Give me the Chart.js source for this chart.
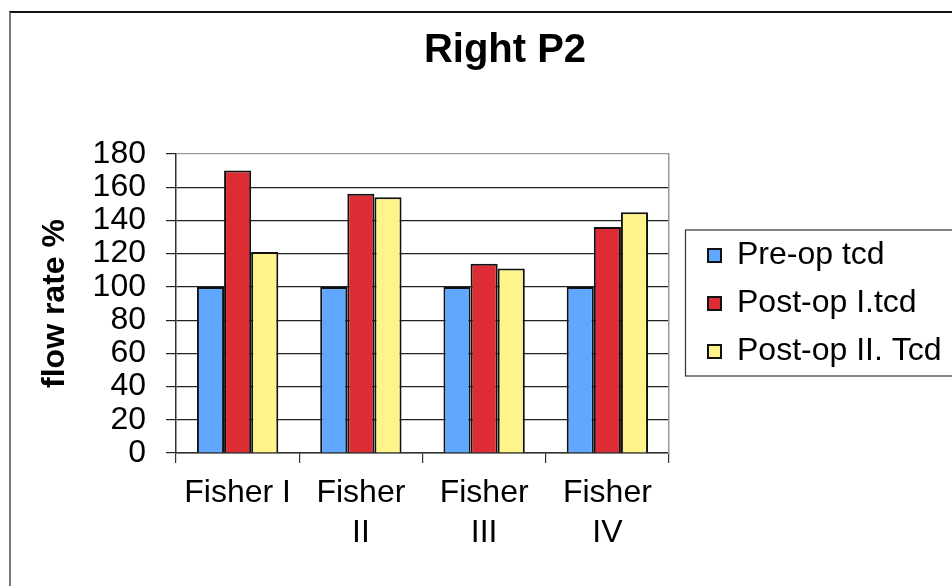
<!DOCTYPE html>
<html><head><meta charset="utf-8">
<script src="https://cdn.jsdelivr.net/npm/chart.js@4.4.0/dist/chart.umd.min.js"></script>
<style>
html,body{margin:0;padding:0;background:#fff;overflow:hidden;width:952px;height:586px;}
#frame{position:absolute;left:9px;top:11px;width:1200px;height:800px;border-left:2px solid #7a7a7a;border-top:2px solid #111;}
#c{position:absolute;left:0;top:0;}
</style></head><body>
<div id="frame"></div>
<canvas id="c" width="1040" height="586"></canvas>
<script>
// ---- data ----
const categories = ["Fisher I", ["Fisher", "II"], ["Fisher", "III"], ["Fisher", "IV"]];
const seriesNames = ["Pre-op tcd", "Post-op I.tcd", "Post-op II. Tcd"];
const preOp = [100, 100, 100, 100];
const postOp1 = [170, 156, 114, 136];
const postOp2 = [121, 154, 111, 145];
const yMin = 0, yMax = 180, yStep = 20;
const chartTitle = "Right P2";
const yTitle = "flow rate %";

// ---- layout helpers ----
const FAMILY = "'Liberation Sans', Arial, sans-serif";
const W = 1040;
const mctx = document.createElement('canvas').getContext('2d');
mctx.font = "32px " + FAMILY;
const maxText = Math.max(...seriesNames.map(s => mctx.measureText(s).width));
const legendPad = 16, boxW = 13, legendFont = 32;
const legendW = legendPad + boxW + legendFont / 2 + maxText + 10;
const legendLeft = 692, areaLeft = 176, areaRight = 669;
const legendRight = legendLeft + legendW;
const titleCenter = 505;
const padLeft = 2 * titleCenter - legendRight;
const padRight = W - legendRight;
const yTitleCenter = 55;

Chart.defaults.font.family = FAMILY;
Chart.defaults.color = '#000';

const legendFrame = {
  id: 'legendFrame',
  afterDraw(chart) {
    const lg = chart.legend, hb = lg.legendHitBoxes;
    if (!hb || !hb.length) return;
    const ctx = chart.ctx;
    const last = hb[hb.length - 1];
    const top = hb[0].top - 10, bottom = last.top + last.height + 8;
    ctx.save();
    ctx.strokeStyle = '#333';
    ctx.lineWidth = 1.2;
    ctx.strokeRect(lg.left - 7 + 0.5, top + 0.5, chart.width, bottom - top);
    ctx.restore();
  }
};

new Chart(document.getElementById('c'), {
  type: 'bar',
  data: {
    labels: categories,
    datasets: [
      { label: seriesNames[0], data: preOp, backgroundColor: '#60A8FF', borderColor: '#111', borderWidth: 2 },
      { label: seriesNames[1], data: postOp1, backgroundColor: '#DD2C33', borderColor: '#111', borderWidth: 2 },
      { label: seriesNames[2], data: postOp2, backgroundColor: '#FFF48A', borderColor: '#111', borderWidth: 2 }
    ]
  },
  options: {
    responsive: false,
    animation: false,
    devicePixelRatio: 1,
    layout: { padding: { left: padLeft, right: padRight, top: 0, bottom: 23 } },
    datasets: { bar: { categoryPercentage: 0.66, barPercentage: 1.0 } },
    plugins: {
      title: {
        display: true, text: chartTitle,
        font: { size: 40, weight: 'bold' }, color: '#000',
        padding: { top: 27, bottom: 79 }
      },
      legend: {
        position: 'right',
        fullSize: false,
        maxWidth: 400,
        labels: {
          boxWidth: boxW, boxHeight: 13, padding: legendPad,
          font: { size: legendFont }, color: '#000'
        }
      },
      tooltip: { enabled: false }
    },
    scales: {
      x: {
        offset: true,
        grid: { offset: true, drawOnChartArea: false, tickLength: 10, color: '#333', lineWidth: 1.2 },
        border: { color: '#333', width: 1.5 },
        ticks: { font: { size: 32, lineHeight: 1.25 }, color: '#000', padding: 10, maxRotation: 0, autoSkip: false }
      },
      y: {
        min: yMin, max: yMax,
        afterFit(scale) { scale.width = areaLeft - padLeft; },
        ticks: { stepSize: yStep, font: { size: 32 }, color: '#000', padding: 20, autoSkip: false },
        grid: {
          tickLength: 10,
          color: ctx => (ctx.tick && ctx.tick.value === yMax) ? '#9a9a9a' : '#222',
          tickColor: '#222',
          lineWidth: 1.2
        },
        border: { color: '#333', width: 1.5 },
        title: {
          display: true, text: yTitle,
          font: { size: 32, weight: 'bold', lineHeight: 1 }, color: '#000',
          padding: { top: yTitleCenter - 16 - padLeft, bottom: 0 }
        }
      },
      y2: {
        position: 'right', min: yMin, max: yMax,
        afterFit(scale) { scale.width = legendLeft - areaRight; },
        ticks: { display: false },
        grid: { drawOnChartArea: false, drawTicks: false },
        border: { color: '#9a9a9a', width: 1.5 }
      }
    }
  },
  plugins: [legendFrame]
});
</script>
</body></html>
